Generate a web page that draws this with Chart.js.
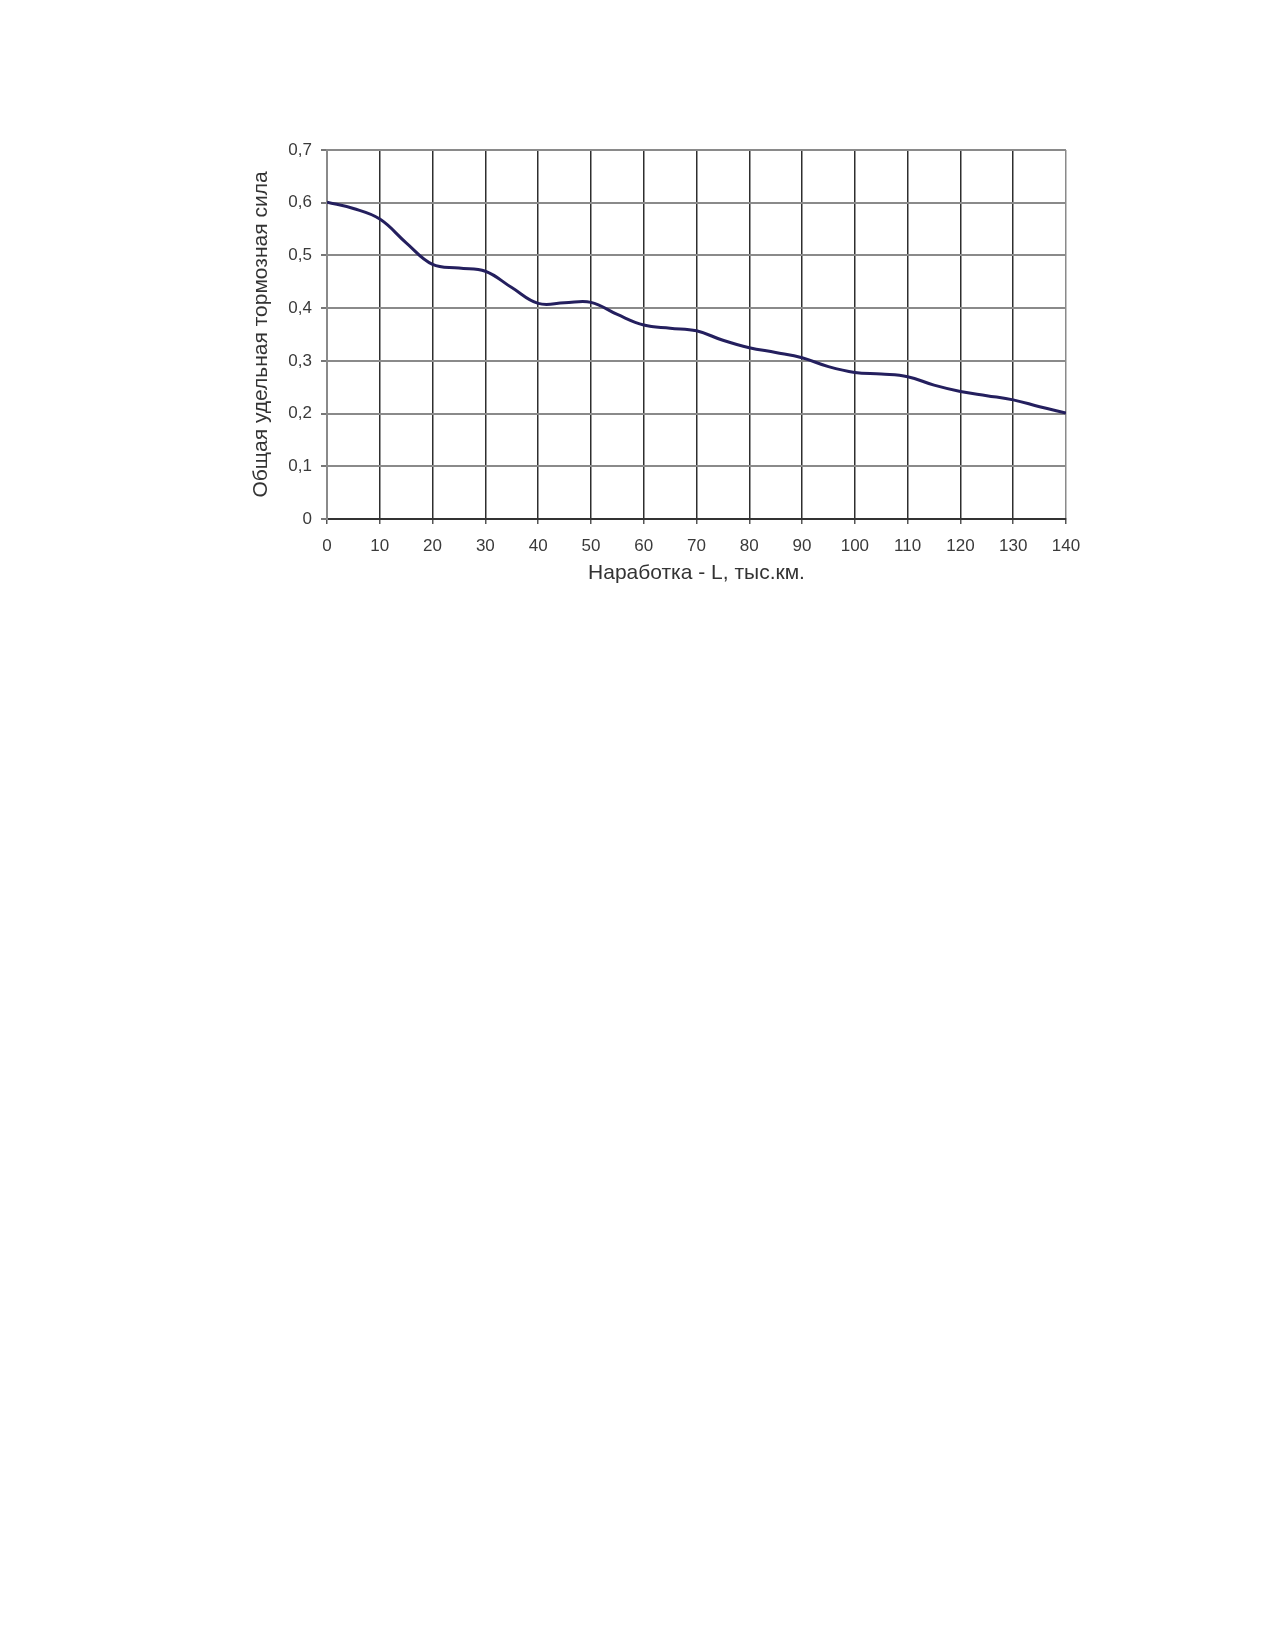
<!DOCTYPE html>
<html>
<head>
<meta charset="utf-8">
<script src="https://cdn.jsdelivr.net/npm/chart.js@4"></script>
<style>
  html, body { margin: 0; padding: 0; background: #fff; }
  #wrap { width: 1275px; height: 1650px; position: relative; }
  canvas { display: block; }
</style>
</head>
<body>
<div id="wrap"><canvas id="c" width="1275" height="1650"></canvas></div>
<script>
// Data
const mileage = [0, 5, 10, 15, 20, 25, 30, 35, 40, 45, 50, 55, 60, 65, 70,
                 75, 80, 85, 90, 95, 100, 105, 110, 115, 120, 125, 130, 135, 140];
const brakingForce = [0.601, 0.589, 0.569, 0.524, 0.483, 0.476, 0.470, 0.439, 0.409, 0.410,
                      0.411, 0.388, 0.368, 0.362, 0.357, 0.339, 0.325, 0.316, 0.306, 0.289,
                      0.278, 0.275, 0.270, 0.254, 0.242, 0.234, 0.226, 0.213, 0.201];
const xTicks = { min: 0, max: 140, step: 10 };
const yTicks = { min: 0, max: 0.7, step: 0.1 };
const xTitle = 'Наработка - L, тыс.км.';
const yTitle = 'Общая удельная тормозная сила';

const points = mileage.map((x, i) => ({ x: x, y: brakingForce[i] }));
const FONT = "'Liberation Sans', Arial, sans-serif";

new Chart(document.getElementById('c'), {
  type: 'line',
  data: {
    datasets: [{
      data: points,
      borderColor: '#241f5e',
      borderWidth: 3,
      pointRadius: 0,
      tension: 0.4,
      fill: false
    }]
  },
  options: {
    responsive: false,
    devicePixelRatio: 1,
    animation: false,
    layout: { padding: { left: 240, top: 150, right: 209, bottom: 1650 - 519 - 70 } },
    plugins: { legend: { display: false }, tooltip: { enabled: false } },
    scales: {
      x: {
        type: 'linear',
        min: xTicks.min, max: xTicks.max,
        afterFit: s => { s.height = 70; },
        ticks: {
          stepSize: xTicks.step,
          color: '#3a3a3a',
          font: { family: FONT, size: 17 },
          padding: 12,
          maxRotation: 0
        },
        grid: {
          color: c => (c.tick && (c.tick.value === xTicks.min || c.tick.value === xTicks.max)) ? '#8a8a8a' : '#2e2e2e',
          lineWidth: 1.5,
          tickLength: 5,
          tickColor: '#555'
        },
        border: { display: true, color: '#333', width: 2 },
        title: {
          display: true,
          text: xTitle,
          color: '#333',
          font: { family: FONT, size: 21 },
          padding: { top: 0, bottom: 3 }
        }
      },
      y: {
        min: yTicks.min, max: yTicks.max,
        afterFit: s => { s.width = 87; },
        ticks: {
          stepSize: yTicks.step,
          color: '#3a3a3a',
          font: { family: FONT, size: 17 },
          padding: 9,
          callback: v => v === 0 ? '0' : Number(v).toFixed(1).replace('.', ',')
        },
        grid: {
          color: '#8a8a8a',
          lineWidth: 2,
          tickLength: 6,
          tickColor: '#777'
        },
        border: { display: true, color: '#8a8a8a', width: 2 },
        title: {
          display: true,
          text: yTitle,
          color: '#333',
          font: { family: FONT, size: 21 },
          padding: { top: 9, bottom: 0 }
        }
      }
    }
  }
});
</script>
</body>
</html>
